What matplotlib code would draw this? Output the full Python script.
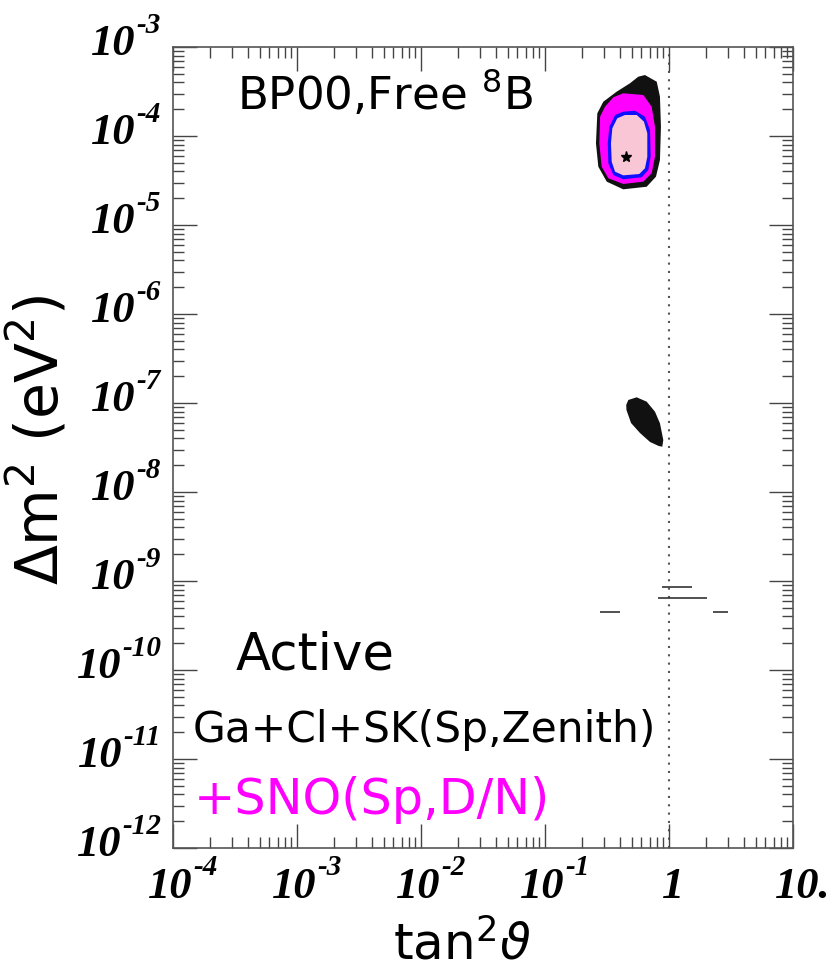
import numpy as np
import matplotlib
matplotlib.use('Agg')
import matplotlib.pyplot as plt
from matplotlib.ticker import LogLocator, NullFormatter

# ---- data (log10 tan^2 theta, log10 dm^2) ----
# outermost allowed region (black)
cl_outer_logx = [-0.194, -0.099, -0.073, -0.065, -0.073, -0.105, -0.180, -0.369,
                 -0.502, -0.570, -0.589, -0.578, -0.530, -0.422, -0.315, -0.248]
cl_outer_logy = [-3.315, -3.390, -3.558, -3.896, -4.270, -4.457, -4.570, -4.599,
                 -4.513, -4.345, -4.082, -3.745, -3.615, -3.502, -3.408, -3.334]
# magenta region
cl_mag_logx = [-0.369, -0.207, -0.140, -0.113, -0.113, -0.140, -0.207, -0.369,
               -0.489, -0.543, -0.562, -0.556, -0.516, -0.449]
cl_mag_logy = [-3.520, -3.539, -3.671, -3.896, -4.233, -4.419, -4.513, -4.539,
               -4.475, -4.345, -4.082, -3.783, -3.671, -3.565]
# blue region
cl_blue_logx = [-0.369, -0.274, -0.194, -0.153, -0.148, -0.167, -0.220, -0.369,
                -0.449, -0.489, -0.494, -0.481, -0.435]
cl_blue_logy = [-3.727, -3.716, -3.783, -3.933, -4.233, -4.382, -4.464, -4.487,
                -4.438, -4.307, -4.082, -3.896, -3.764]
# pink (innermost) region
cl_pink_logx = [-0.355, -0.260, -0.202, -0.175, -0.175, -0.194, -0.240, -0.369,
                -0.435, -0.462, -0.468, -0.457, -0.417]
cl_pink_logy = [-3.764, -3.764, -3.839, -3.970, -4.233, -4.363, -4.427, -4.442,
                -4.401, -4.289, -4.082, -3.913, -3.801]
# LOW island (black)
low_logx = [-0.328, -0.261, -0.180, -0.113, -0.073, -0.046, -0.054, -0.083,
            -0.153, -0.234, -0.306, -0.343, -0.345]
low_logy = [-6.966, -6.936, -6.985, -7.098, -7.228, -7.416, -7.491, -7.483,
            -7.438, -7.337, -7.225, -7.079, -7.022]
# tiny vacuum islands (horizontal strips)
vac_logx_lo = [-0.556, -0.059, -0.086, 0.357]
vac_logx_hi = [-0.395, 0.183, 0.304, 0.478]
vac_logy = [-9.345, -9.064, -9.188, -9.352]
# best fit point
best_logx = -0.347
best_logy = -4.236

x_tick_vals = [1e-4, 1e-3, 1e-2, 1e-1, 1, 10]
x_tick_base = ['10', '10', '10', '10', '1', '10.']
x_tick_exp = ['-4', '-3', '-2', '-1', '', '']
y_tick_exps = [-3, -4, -5, -6, -7, -8, -9, -10, -11, -12]

# ---- figure ----
W, H = 833, 971
fig = plt.figure(figsize=(W / 100, H / 100), dpi=100)
L, R, T, B = 173, 793, 47, 848
ax = fig.add_axes([L / W, (H - B) / H, (R - L) / W, (B - T) / H])
ax.set_xscale('log')
ax.set_yscale('log')
ax.set_xlim(1e-4, 10)
ax.set_ylim(1e-12, 1e-3)

def P(a):
    return 10 ** np.asarray(a, dtype=float)

ax.fill(P(cl_outer_logx), P(cl_outer_logy), color='#111111', lw=0, zorder=2)
ax.fill(P(cl_mag_logx), P(cl_mag_logy), color='#ff00ff', lw=0, zorder=3)
ax.fill(P(cl_blue_logx), P(cl_blue_logy), color='#1010ff', lw=0, zorder=4)
ax.fill(P(cl_pink_logx), P(cl_pink_logy), color='#f9c6d6', lw=0, zorder=5)
ax.fill(P(low_logx), P(low_logy), color='#111111', lw=0, zorder=2)
ax.hlines(P(vac_logy), P(vac_logx_lo), P(vac_logx_hi), color='#333333', lw=1.2, zorder=2)
ax.plot([P(best_logx)], [P(best_logy)], marker='*', color='k', ms=8, lw=0, zorder=6)

ax.axvline(1, color='#555555', ls=(0, (1, 3)), lw=1.5, zorder=1)

# ticks
for axis in (ax.xaxis, ax.yaxis):
    axis.set_major_locator(LogLocator(base=10, numticks=30))
    axis.set_minor_locator(LogLocator(base=10, subs=np.arange(2, 10), numticks=30))
    axis.set_major_formatter(NullFormatter())
    axis.set_minor_formatter(NullFormatter())
ax.tick_params(which='both', direction='in', top=True, right=True,
               color='#444444', width=1.0)
ax.tick_params(which='major', length=17)
ax.tick_params(which='minor', length=8)
for s in ax.spines.values():
    s.set_color('#555555')
    s.set_linewidth(1.2)

base_font = dict(family='Liberation Serif', weight='bold', style='italic', size=32)
exp_font = dict(family='Liberation Serif', weight='bold', style='italic', size=21)

# x tick labels: base centred on the tick, exponent raised to its right
for v, b, e in zip(x_tick_vals, x_tick_base, x_tick_exp):
    if b == '10.':
        base = ax.annotate(b, xy=(v, 0), xycoords=('data', 'axes fraction'),
                           xytext=(-18, -50), textcoords='offset pixels',
                           ha='left', va='baseline', annotation_clip=False, **base_font)
    else:
        base = ax.annotate(b, xy=(v, 0), xycoords=('data', 'axes fraction'),
                           xytext=(-3 if b == '10' else 4, -50), textcoords='offset pixels',
                           ha='center', va='baseline', annotation_clip=False, **base_font)
    if e:
        ax.annotate(e, xy=(1, 0), xycoords=(base, 'axes fraction'),
                    xytext=(1, -27), textcoords='offset pixels',
                    ha='left', va='baseline', annotation_clip=False, **exp_font)

# y tick labels: exponent right-aligned near the axis, base to its left
for e in y_tick_exps:
    v = 10.0 ** e
    ex = ax.annotate('%d' % e, xy=(0, v), xycoords=('axes fraction', 'data'),
                     xytext=(-12, 14), textcoords='offset pixels',
                     ha='right', va='baseline', annotation_clip=False, **exp_font)
    ax.annotate('10', xy=(0, v), xycoords=(ex, 'data'),
                xytext=(-1, -8), textcoords='offset pixels',
                ha='right', va='baseline', annotation_clip=False, **base_font)

# annotations inside the plot
lab = dict(family='DejaVu Sans', math_fontfamily='dejavusans')
def ax_frac(px, py):
    return (px - L) / (R - L), (B - py) / (B - T)

ax.text(*ax_frac(237, 110), r'BP00,Free $^{8}$B', transform=ax.transAxes,
        fontsize=32.5, ha='left', va='baseline', **lab)
ax.text(*ax_frac(236, 670), 'Active', transform=ax.transAxes,
        fontsize=37, ha='left', va='baseline', **lab)
ax.text(*ax_frac(193, 742), 'Ga+Cl+SK(Sp,Zenith)', transform=ax.transAxes,
        fontsize=30.5, ha='left', va='baseline', **lab)
ax.text(*ax_frac(194, 814), '+SNO(Sp,D/N)', transform=ax.transAxes,
        fontsize=35.5, ha='left', va='baseline', color='#ff00ff', **lab)

fig.text(38 / W, 1 - 440 / H, r'$\Delta$m$^2$ (eV$^2$)', rotation=90,
         ha='center', va='center', fontsize=42, **lab)
fig.text(462 / W, 2 / H, r'tan$^2\vartheta$', ha='center', va='bottom',
         fontsize=36, **lab)

fig.savefig('out.png', dpi=100)
